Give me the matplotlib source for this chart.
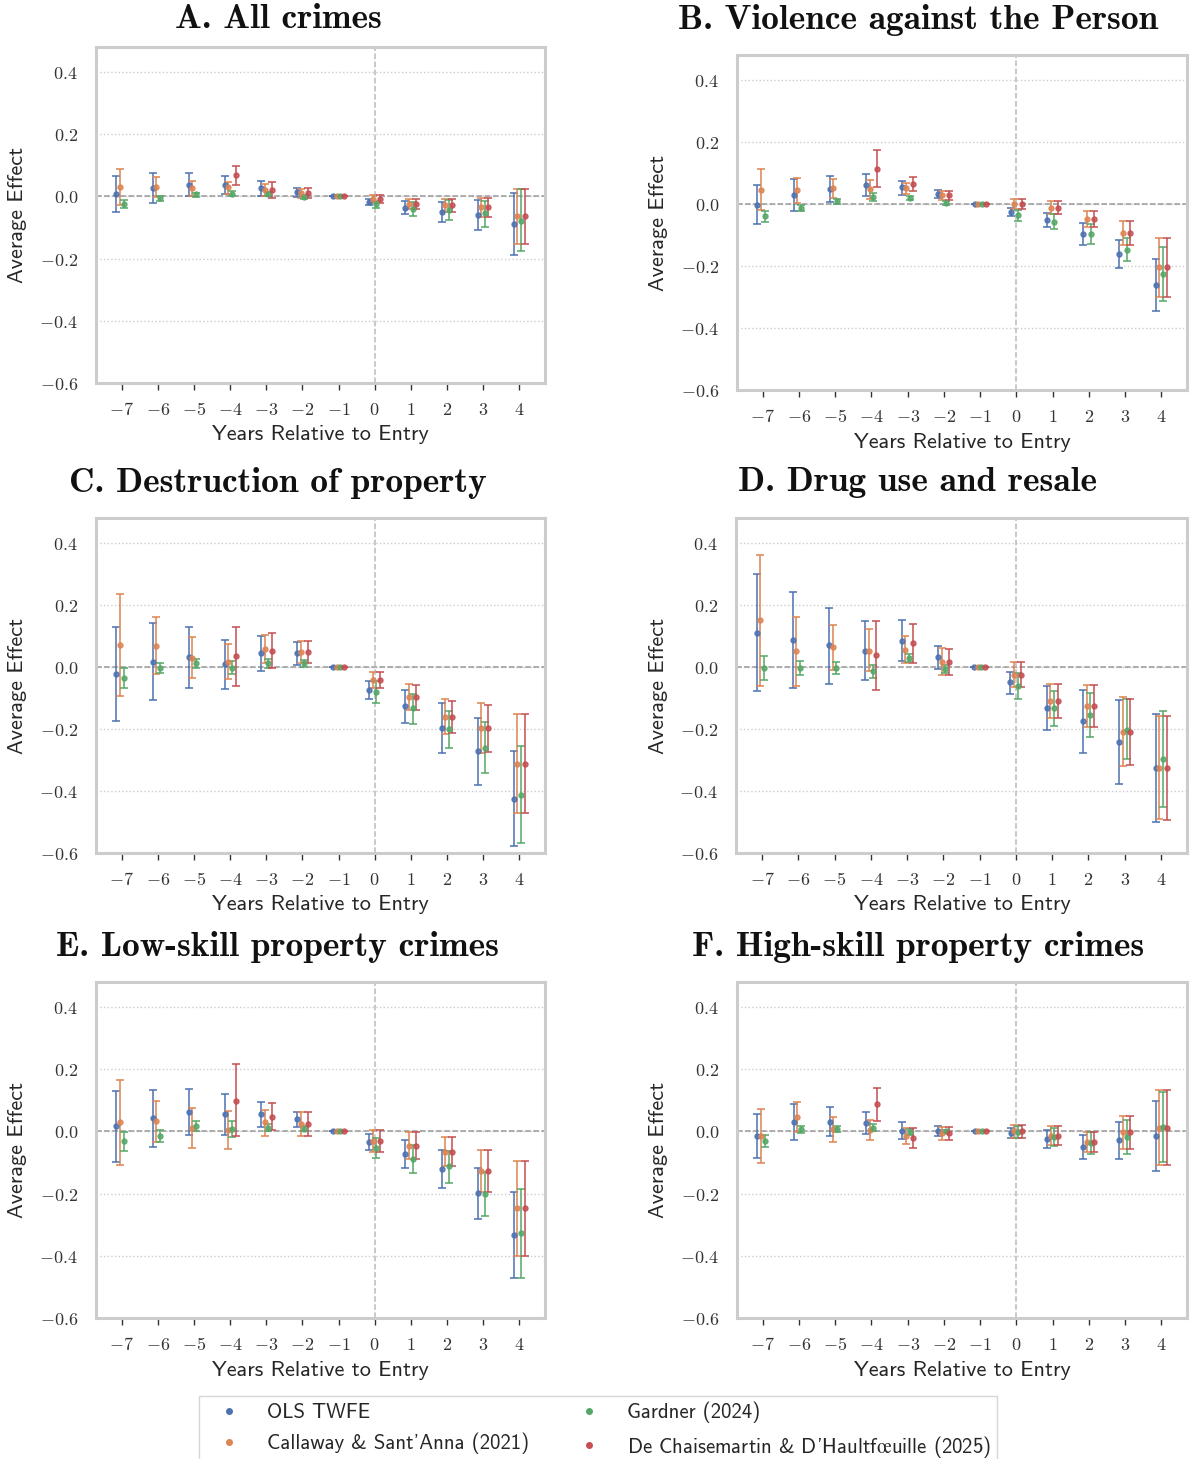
import numpy as np
import matplotlib
matplotlib.use("Agg")
import matplotlib.pyplot as plt
import seaborn as sns
from matplotlib.lines import Line2D
from matplotlib.ticker import FuncFormatter

nan = np.nan

years = [-7, -6, -5, -4, -3, -2, -1, 0, 1, 2, 3, 4]
estimators = ["OLS TWFE", "Callaway & Sant'Anna (2021)", "Gardner (2024)",
              r"De Chaisemartin & D'Haultf$\mathsf{\oe}$uille (2025)"]
colors = ["#4C72B0", "#DD8452", "#55A868", "#C44E52"]
offsets = [-0.15, -0.05, 0.05, 0.15]

titles = ["A. All crimes", "B. Violence against the Person", "C. Destruction of property",
          "D. Drug use and resale", "E. Low-skill property crimes", "F. High-skill property crimes"]

# rows: OLS TWFE, Callaway & Sant'Anna, Gardner, De Chaisemartin & D'Haultfoeuille
A_coef = [[0.009, 0.027, 0.037, 0.037, 0.026, 0.013, 0, -0.017, -0.036, -0.050, -0.060, -0.088],
          [0.030, 0.030, 0.027, 0.029, 0.020, 0.011, 0, -0.007, -0.025, -0.029, -0.035, -0.063],
          [-0.024, -0.006, 0.006, 0.009, 0.006, -0.001, 0, -0.025, -0.041, -0.045, -0.055, -0.078],
          [nan, nan, nan, 0.067, 0.021, 0.011, 0, -0.009, -0.025, -0.029, -0.035, -0.063]]
A_lo = [[-0.049, -0.021, 0.000, 0.009, 0.002, -0.002, 0, -0.028, -0.058, -0.083, -0.108, -0.187],
        [-0.028, -0.002, 0.002, 0.009, 0.000, -0.004, 0, -0.021, -0.042, -0.051, -0.067, -0.153],
        [-0.036, -0.015, -0.001, 0.002, 0.000, -0.007, 0, -0.037, -0.063, -0.077, -0.097, -0.176],
        [nan, nan, nan, 0.037, -0.004, -0.004, 0, -0.021, -0.042, -0.051, -0.067, -0.153]]
A_hi = [[0.066, 0.074, 0.075, 0.066, 0.049, 0.028, 0, -0.007, -0.015, -0.019, -0.013, 0.011],
        [0.087, 0.061, 0.049, 0.045, 0.040, 0.025, 0, 0.004, -0.009, -0.009, -0.004, 0.025],
        [-0.011, 0.002, 0.011, 0.016, 0.013, 0.003, 0, -0.014, -0.019, -0.013, -0.014, 0.022],
        [nan, nan, nan, 0.096, 0.047, 0.026, 0, 0.004, -0.009, -0.009, -0.004, 0.025]]

B_coef = [[-0.003, 0.029, 0.047, 0.061, 0.053, 0.033, 0, -0.026, -0.051, -0.096, -0.161, -0.260],
          [0.046, 0.045, 0.050, 0.047, 0.050, 0.028, 0, 0.000, -0.012, -0.049, -0.093, -0.204],
          [-0.039, -0.012, 0.008, 0.023, 0.018, 0.002, 0, -0.035, -0.057, -0.096, -0.148, -0.226],
          [nan, nan, nan, 0.113, 0.064, 0.028, 0, 0.000, -0.012, -0.049, -0.093, -0.204]]
B_lo = [[-0.066, -0.023, 0.005, 0.025, 0.030, 0.020, 0, -0.040, -0.075, -0.132, -0.207, -0.345],
        [-0.021, 0.004, 0.019, 0.017, 0.032, 0.014, 0, -0.017, -0.033, -0.075, -0.131, -0.300],
        [-0.057, -0.023, 0.000, 0.008, 0.012, -0.004, 0, -0.055, -0.081, -0.128, -0.185, -0.313],
        [nan, nan, nan, 0.053, 0.041, 0.014, 0, -0.017, -0.033, -0.075, -0.131, -0.300]]
B_hi = [[0.060, 0.079, 0.089, 0.096, 0.074, 0.045, 0, -0.013, -0.029, -0.061, -0.115, -0.177],
        [0.113, 0.085, 0.080, 0.076, 0.066, 0.042, 0, 0.017, 0.010, -0.023, -0.056, -0.109],
        [-0.023, -0.002, 0.015, 0.034, 0.025, 0.008, 0, -0.019, -0.032, -0.066, -0.109, -0.139],
        [nan, nan, nan, 0.174, 0.087, 0.042, 0, 0.017, 0.010, -0.023, -0.056, -0.109]]

C_coef = [[-0.024, 0.017, 0.032, 0.009, 0.044, 0.044, 0, -0.074, -0.127, -0.196, -0.272, -0.425],
          [0.072, 0.068, 0.030, 0.017, 0.058, 0.049, 0, -0.041, -0.096, -0.160, -0.198, -0.312],
          [-0.035, -0.002, 0.012, -0.002, 0.013, 0.012, 0, -0.081, -0.134, -0.201, -0.260, -0.412],
          [nan, nan, nan, 0.034, 0.052, 0.049, 0, -0.041, -0.096, -0.160, -0.198, -0.312]]
C_lo = [[-0.176, -0.107, -0.067, -0.070, -0.012, 0.006, 0, -0.104, -0.181, -0.276, -0.381, -0.578],
        [-0.093, -0.024, -0.035, -0.040, 0.012, 0.014, 0, -0.067, -0.138, -0.216, -0.277, -0.472],
        [-0.067, -0.021, -0.004, -0.024, -0.002, 0.000, 0, -0.118, -0.185, -0.262, -0.343, -0.568],
        [nan, nan, nan, -0.062, -0.003, 0.013, 0, -0.067, -0.138, -0.212, -0.274, -0.472]]
C_hi = [[0.128, 0.141, 0.130, 0.088, 0.099, 0.079, 0, -0.046, -0.073, -0.117, -0.165, -0.270],
        [0.235, 0.160, 0.095, 0.075, 0.102, 0.082, 0, -0.015, -0.055, -0.105, -0.118, -0.153],
        [-0.003, 0.014, 0.027, 0.018, 0.027, 0.021, 0, -0.046, -0.086, -0.142, -0.178, -0.256],
        [nan, nan, nan, 0.129, 0.109, 0.084, 0, -0.015, -0.057, -0.110, -0.122, -0.153]]

D_coef = [[0.110, 0.086, 0.070, 0.052, 0.084, 0.031, 0, -0.050, -0.132, -0.175, -0.242, -0.326],
          [0.151, 0.050, 0.064, 0.052, 0.056, 0.017, 0, -0.025, -0.109, -0.125, -0.209, -0.326],
          [-0.002, -0.002, -0.002, -0.013, 0.030, -0.006, 0, -0.061, -0.134, -0.154, -0.202, -0.297],
          [nan, nan, nan, 0.037, 0.077, 0.017, 0, -0.025, -0.109, -0.125, -0.209, -0.326]]
D_lo = [[-0.079, -0.067, -0.055, -0.042, 0.019, -0.007, 0, -0.087, -0.202, -0.277, -0.376, -0.499],
        [-0.060, -0.062, -0.009, -0.014, 0.013, -0.025, 0, -0.066, -0.164, -0.195, -0.321, -0.491],
        [-0.041, -0.025, -0.022, -0.035, 0.015, -0.021, 0, -0.102, -0.191, -0.226, -0.298, -0.451],
        [nan, nan, nan, -0.073, 0.014, -0.025, 0, -0.066, -0.164, -0.195, -0.317, -0.492]]
D_hi = [[0.299, 0.240, 0.191, 0.147, 0.150, 0.068, 0, -0.015, -0.062, -0.076, -0.106, -0.153],
        [0.360, 0.161, 0.136, 0.121, 0.098, 0.060, 0, 0.017, -0.055, -0.057, -0.098, -0.159],
        [0.035, 0.018, 0.017, 0.007, 0.043, 0.007, 0, -0.021, -0.077, -0.084, -0.104, -0.141],
        [nan, nan, nan, 0.149, 0.139, 0.059, 0, 0.017, -0.055, -0.057, -0.103, -0.158]]

E_coef = [[0.017, 0.042, 0.063, 0.055, 0.055, 0.040, 0, -0.034, -0.073, -0.121, -0.199, -0.332],
          [0.030, 0.032, 0.012, 0.005, 0.029, 0.025, 0, -0.030, -0.046, -0.065, -0.127, -0.248],
          [-0.032, -0.014, 0.018, 0.009, 0.012, 0.009, 0, -0.055, -0.090, -0.113, -0.202, -0.327],
          [nan, nan, nan, 0.099, 0.047, 0.025, 0, -0.030, -0.046, -0.065, -0.127, -0.248]]
E_lo = [[-0.097, -0.049, -0.011, -0.012, 0.014, 0.015, 0, -0.060, -0.119, -0.182, -0.283, -0.473],
        [-0.107, -0.033, -0.052, -0.057, -0.015, -0.016, 0, -0.065, -0.090, -0.113, -0.194, -0.402],
        [-0.064, -0.033, 0.001, -0.018, 0.000, 0.000, 0, -0.086, -0.135, -0.165, -0.272, -0.470],
        [nan, nan, nan, -0.016, 0.004, -0.016, 0, -0.065, -0.090, -0.113, -0.194, -0.402]]
E_hi = [[0.130, 0.133, 0.137, 0.121, 0.094, 0.063, 0, -0.010, -0.027, -0.060, -0.117, -0.194],
        [0.165, 0.097, 0.076, 0.066, 0.070, 0.063, 0, 0.005, -0.001, -0.019, -0.061, -0.094],
        [-0.001, 0.005, 0.034, 0.034, 0.025, 0.017, 0, -0.022, -0.045, -0.063, -0.132, -0.186],
        [nan, nan, nan, 0.215, 0.091, 0.063, 0, 0.004, -0.001, -0.019, -0.061, -0.094]]

F_coef = [[-0.015, 0.030, 0.031, 0.028, 0.002, 0.002, 0, -0.004, -0.025, -0.049, -0.029, -0.016],
          [-0.015, 0.046, 0.006, 0.004, -0.014, -0.006, 0, 0.000, -0.014, -0.033, -0.002, 0.012],
          [-0.030, 0.006, 0.007, 0.012, -0.001, 0.000, 0, -0.001, -0.019, -0.036, -0.018, 0.014],
          [nan, nan, nan, 0.087, -0.020, -0.006, 0, 0.000, -0.014, -0.033, -0.002, 0.012]]
F_lo = [[-0.086, -0.028, -0.016, -0.010, -0.025, -0.015, 0, -0.021, -0.053, -0.089, -0.088, -0.128],
        [-0.102, -0.002, -0.033, -0.029, -0.040, -0.029, 0, -0.021, -0.045, -0.068, -0.056, -0.108],
        [-0.049, -0.005, -0.003, 0.000, -0.012, -0.006, 0, -0.022, -0.048, -0.073, -0.072, -0.097],
        [nan, nan, nan, 0.033, -0.053, -0.029, 0, -0.022, -0.045, -0.068, -0.057, -0.109]]
F_hi = [[0.056, 0.087, 0.078, 0.063, 0.029, 0.018, 0, 0.012, 0.004, -0.012, 0.030, 0.096],
        [0.071, 0.094, 0.046, 0.036, 0.012, 0.015, 0, 0.019, 0.016, -0.001, 0.050, 0.132],
        [-0.012, 0.018, 0.018, 0.022, 0.009, 0.005, 0, 0.018, 0.010, -0.001, 0.035, 0.125],
        [nan, nan, nan, 0.140, 0.011, 0.015, 0, 0.019, 0.016, -0.001, 0.050, 0.133]]

panels = [(A_coef, A_lo, A_hi), (B_coef, B_lo, B_hi), (C_coef, C_lo, C_hi),
          (D_coef, D_lo, D_hi), (E_coef, E_lo, E_hi), (F_coef, F_lo, F_hi)]

sns.set_style("whitegrid")
plt.rcParams["mathtext.fontset"] = "cm"
plt.rcParams["axes.unicode_minus"] = True

W, H = 1192, 1459
fig = plt.figure(figsize=(W / 100, H / 100), dpi=100)

# axes boxes in pixels: left, top, right, bottom
boxes = [(96, 47, 545, 383), (737, 55, 1187, 390),
         (96, 518, 545, 853), (736, 518, 1187, 853),
         (96, 982, 545, 1318), (737, 982, 1187, 1318)]
title_y = [20, 20, 483, 483, 947, 947]

serif_font = dict(family="cmb10", size=25.5)
sans_font = dict(family=["cmss10", "DejaVu Sans"], size=16)

for i, ((coef, lo, hi), (l, t, r, b)) in enumerate(zip(panels, boxes)):
    ax = fig.add_axes([l / W, 1 - b / H, (r - l) / W, (b - t) / H])
    for k in range(4):
        c = np.array(coef[k], dtype=float)
        yerr = [c - np.array(lo[k], dtype=float), np.array(hi[k], dtype=float) - c]
        x = np.array(years) + offsets[k]
        ax.errorbar(x, c, yerr=yerr, fmt="o", color=colors[k], markersize=3.6,
                    elinewidth=1.3, capsize=3.2, capthick=1.3, alpha=0.85, zorder=3)
    ax.axhline(0, color="#999999", ls="--", lw=1.1, zorder=1)
    ax.axvline(0, color="#bbbbbb", ls="--", lw=1.1, zorder=1)

    ax.set_ylim(-0.6, 0.48)
    ax.set_yticks([-0.6, -0.4, -0.2, 0.0, 0.2, 0.4])
    ax.set_xticks(years)
    ax.yaxis.set_major_formatter(FuncFormatter(lambda v, p: "$%.1f$" % v))
    ax.xaxis.set_major_formatter(FuncFormatter(lambda v, p: "$%d$" % round(v)))
    ax.grid(axis="y", ls=":", color="#cccccc", lw=1)
    ax.grid(axis="x", visible=False)
    for sp in ax.spines.values():
        sp.set_color("#cccccc")
        sp.set_linewidth(2.2)
    ax.tick_params(axis="x", bottom=True, length=5, width=1, color="#333333",
                   pad=8, labelsize=13, labelcolor="#333333")
    ax.tick_params(axis="y", left=False, length=0, pad=13, labelsize=13,
                   labelcolor="#333333")

    cx = 278 if i % 2 == 0 else 918
    fig.text(cx / W, 1 - title_y[i] / H, titles[i], ha="center", va="center",
             color="#111111", **serif_font)
    lx = 320 if i % 2 == 0 else 962
    fig.text(lx / W, 1 - (b + 52) / H, "Years Relative to Entry", ha="center",
             va="center", color="#262626", **sans_font)
    yx = 18 if i % 2 == 0 else 659
    fig.text(yx / W, 1 - (t + b) / 2 / H, "Average Effect", ha="center", va="center",
             rotation=90, color="#262626", **sans_font)

handles = [Line2D([], [], marker="o", ls="", color=c, markersize=4) for c in colors]
fig.legend(handles, estimators,
           loc="upper center", bbox_to_anchor=(598 / W, 1 - 1386 / H), ncol=2,
           prop=dict(family=["cmss10", "DejaVu Sans"], size=15), frameon=True,
           edgecolor="#cccccc", handlelength=2.3, handletextpad=0.7, columnspacing=1.7,
           labelspacing=0.5, borderpad=0.25, fancybox=False)

fig.savefig("out.png", dpi=100)
